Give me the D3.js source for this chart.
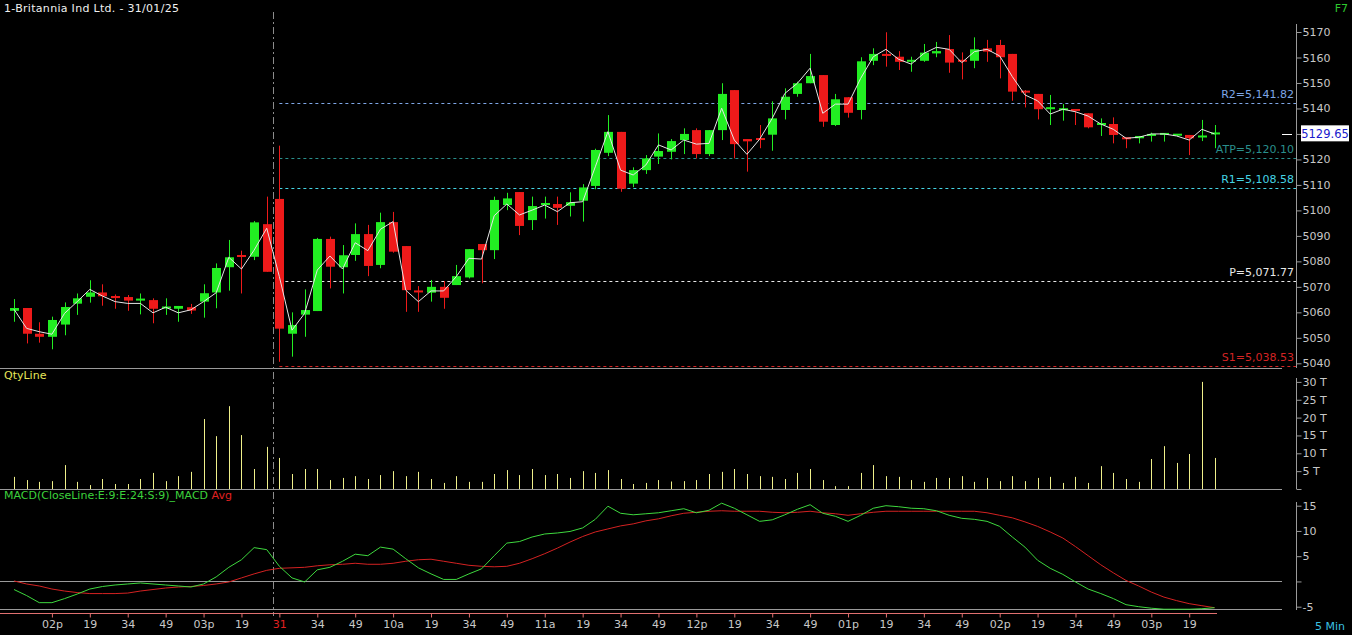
<!DOCTYPE html>
<html><head><meta charset="utf-8">
<script src="https://cdn.jsdelivr.net/npm/d3@7"></script>
<style>
html,body{margin:0;padding:0;background:#000;overflow:hidden}
svg{display:block}
text{font-family:"DejaVu Sans",Verdana,sans-serif}
</style>
</head><body>
<svg id="chart" width="1352" height="635"></svg>
<script>
// ---------- DATA ----------
const sessions = [
  {date: "30/01", start: "13:49", count: 21},
  {date: "31/01", start: "09:19", count: 75}
];
const opens = [5060.6,5061.7,5051.6,5050.4,5055.2,5063.4,5066.1,5067.8,5066.4,5066.0,5064.8,5064.8,5061.5,5061.4,5062.0,5064.2,5067.8,5077.7,5082.1,5081.8,5094.6,
  5104.5,5051.6,5059.1,5060.5,5088.8,5077.7,5082.5,5090.7,5078.6,5095.4,5086.0,5068.2,5067.7,5070.0,5070.7,5073.7,5086.8,5084.4,5102.1,5107.2,5096.2,5102.1,5102.5,5101.8,5103.8,5109.6,5122.6,5130.8,5110.5,5115.8,5121.1,5123.0,5127.6,5131.5,5122.1,5131.5,5147.2,5128.0,5128.0,5129.7,5139.4,5145.7,5149.9,5153.1,5133.5,5144.4,5139.4,5158.7,5161.4,5160.3,5158.3,5158.7,5161.6,5163.3,5158.7,5158.7,5163.6,5164.9,5161.4,5146.6,5145.7,5139.7,5139.4,5139.4,5138.1,5133.5,5133.9,5128.7,5128.3,5129.4,5129.8,5129.6,5129.6,5128.7,5129.5];
const highs = [5065.2,5061.7,5056.1,5058.3,5063.9,5067.4,5072.6,5071.0,5067.0,5066.8,5067.4,5065.5,5065.5,5062.5,5063.3,5071.0,5079.2,5088.4,5084.2,5095.8,5105.4,
  5125.4,5060.0,5069.0,5089.2,5089.7,5086.4,5094.9,5094.3,5099.1,5099.4,5086.0,5070.3,5072.7,5072.3,5078.6,5084.8,5086.8,5105.4,5106.9,5107.2,5105.4,5105.4,5105.4,5107.1,5110.3,5124.2,5137.4,5130.8,5116.9,5121.7,5130.2,5128.0,5132.2,5132.2,5131.5,5149.9,5147.2,5128.0,5133.5,5142.8,5147.9,5150.5,5161.4,5153.1,5145.7,5144.4,5160.1,5163.6,5169.9,5162.5,5160.3,5165.3,5166.1,5168.8,5162.0,5167.9,5166.9,5166.9,5161.4,5147.2,5145.7,5145.3,5141.7,5139.4,5138.1,5136.1,5136.5,5128.7,5129.2,5130.5,5130.0,5129.8,5129.6,5135.5,5133.5];
const lows = [5056.3,5047.8,5048.1,5045.5,5051.0,5059.0,5063.8,5062.6,5061.4,5060.6,5059.2,5055.7,5059.0,5056.3,5059.4,5057.9,5061.6,5068.5,5067.4,5080.5,5075.9,
  5040.6,5042.6,5050.4,5060.5,5069.4,5067.4,5080.2,5074.2,5077.3,5083.4,5060.2,5060.2,5064.2,5061.4,5070.7,5073.3,5071.4,5080.9,5100.1,5090.3,5092.3,5096.8,5094.3,5097.6,5095.6,5108.3,5121.3,5107.3,5109.1,5114.3,5118.2,5120.0,5122.1,5120.4,5121.3,5127.6,5120.4,5115.2,5124.4,5123.4,5135.7,5144.6,5149.9,5132.8,5133.1,5136.4,5135.7,5157.0,5156.4,5155.1,5154.4,5158.3,5160.1,5154.0,5151.4,5155.8,5158.3,5151.8,5143.0,5140.4,5135.7,5133.5,5135.2,5133.5,5132.2,5129.2,5126.3,5124.4,5126.3,5127.0,5127.0,5129.2,5121.7,5127.2,5124.4];
const closes = [5061.7,5051.6,5050.4,5057.0,5062.1,5065.5,5067.8,5066.3,5065.6,5064.6,5065.0,5061.4,5061.9,5062.5,5060.7,5067.5,5077.4,5081.6,5081.6,5095.3,5075.9,
  5053.6,5055.0,5060.9,5088.8,5077.9,5082.4,5090.7,5078.2,5095.4,5083.8,5068.7,5067.7,5070.0,5065.7,5074.2,5084.8,5084.4,5104.1,5104.7,5093.9,5101.7,5102.9,5101.0,5103.2,5109.0,5123.7,5130.8,5108.5,5115.8,5120.4,5123.3,5127.2,5130.0,5122.1,5131.5,5145.7,5126.0,5127.1,5127.6,5136.1,5144.6,5149.9,5152.7,5134.8,5143.6,5138.3,5158.5,5161.4,5160.6,5158.3,5158.7,5161.9,5162.5,5158.0,5158.0,5163.2,5162.3,5160.1,5146.6,5146.0,5139.7,5140.1,5139.7,5138.7,5132.6,5133.9,5129.6,5127.9,5129.2,5129.6,5130.0,5129.7,5128.3,5129.0,5130.2];
const closeLine = [5061.2,5053.7,5052.4,5051.4,5059.6,5064.2,5069.0,5066.4,5064.2,5063.5,5063.5,5059.8,5062.0,5059.8,5061.0,5064.2,5067.7,5081.6,5077.0,5084.4,5093.0,
  5074.0,5053.0,5059.6,5076.6,5082.1,5077.0,5087.3,5084.2,5092.6,5095.6,5068.7,5064.2,5068.4,5068.4,5074.0,5081.2,5080.9,5097.9,5102.5,5098.2,5100.1,5102.1,5099.5,5103.0,5103.4,5117.1,5130.9,5115.8,5113.9,5117.8,5125.7,5123.7,5127.6,5126.0,5126.3,5140.1,5127.6,5122.0,5127.9,5136.1,5145.9,5149.9,5155.8,5138.1,5141.7,5141.7,5151.8,5160.3,5163.2,5159.3,5157.4,5161.6,5164.0,5163.2,5158.0,5162.3,5163.2,5160.6,5152.5,5145.3,5143.0,5137.8,5139.7,5138.7,5137.0,5133.9,5131.8,5128.3,5128.7,5130.0,5130.0,5129.2,5127.6,5131.8,5130.0];
const volumes = [3.4,2.5,2.0,2.2,6.7,2.0,1.1,2.8,1.4,1.4,2.8,4.5,2.2,3.6,4.8,19.6,14.8,23.2,15.1,5.6,11.8,
  8.7,4.2,5.6,5.6,2.5,3.1,3.6,2.8,3.9,5.0,3.6,4.8,2.8,1.7,3.6,2.0,2.0,4.2,5.3,3.9,5.6,3.9,4.2,3.1,5.0,4.5,5.3,2.8,1.4,1.7,2.5,2.1,2.2,2.5,4.2,4.8,5.6,4.2,3.6,3.4,2.8,4.5,5.6,2.5,0.8,0.8,4.5,6.7,3.6,3.4,2.5,2.0,3.1,3.1,3.6,2.0,3.1,2.2,3.6,2.2,3.1,3.4,1.7,3.4,1.7,6.4,4.5,2.8,2.0,8.4,12.0,7.3,9.8,30.0,8.7];
const macdLine = [-1.6,-2.8,-4.2,-4.2,-3.4,-2.5,-1.5,-1.0,-0.7,-0.5,-0.3,-0.5,-0.7,-0.9,-1.1,-0.5,0.9,2.8,4.3,6.7,6.3,
  3.0,0.7,-0.1,2.3,2.8,4.0,5.4,5.1,6.8,6.4,4.5,2.7,1.5,0.4,0.4,1.5,2.5,5.1,7.6,7.9,8.8,9.4,9.6,9.9,10.6,12.3,14.9,13.5,13.2,13.4,13.6,14.0,14.4,13.6,14.1,15.5,14.5,13.2,11.9,12.2,13.2,14.3,15.2,13.5,12.9,11.9,13.1,14.5,15.0,14.8,14.5,14.4,14.0,13.1,12.5,12.3,11.9,10.9,8.8,6.8,4.2,2.6,1.4,-0.1,-1.5,-2.4,-3.4,-4.6,-5.0,-5.3,-5.5,-5.5,-5.5,-5.4,-5.2];
const macdAvg = [0.1,-0.5,-0.9,-1.5,-1.9,-2.2,-2.4,-2.4,-2.4,-2.3,-1.9,-1.6,-1.3,-1.1,-1.0,-0.8,-0.5,-0.1,0.7,1.5,2.2,
  2.6,2.7,2.8,3.1,3.3,3.4,3.6,3.4,3.4,3.6,4.0,4.3,4.4,4.0,3.6,3.2,3.0,2.9,3.0,3.6,4.5,5.5,6.6,7.8,8.9,9.8,10.4,11.0,11.4,12.0,12.4,13.0,13.5,13.7,13.9,14.0,13.9,13.9,13.9,13.7,13.6,13.7,13.9,13.6,13.4,13.1,13.4,13.7,13.9,13.9,13.9,13.9,13.9,13.9,13.9,13.9,13.6,13.1,12.6,11.8,10.9,9.8,8.6,6.9,5.1,3.3,1.7,0.2,-0.9,-2.1,-3.1,-3.8,-4.4,-4.8,-5.2];
const priceTicks = [5040,5050,5060,5070,5080,5090,5100,5110,5120,5130,5140,5150,5160,5170];
const volTicks = [0,5,10,15,20,25,30];
const macdTicks = [-5,0,5,10,15];
const axisLabels = [
  ["30/01 14:04","02p"],["30/01 14:19","19"],["30/01 14:34","34"],["30/01 14:49","49"],["30/01 15:04","03p"],["30/01 15:19","19"],
  ["31/01 09:19","31"],["31/01 09:34","34"],["31/01 09:49","49"],["31/01 10:04","10a"],["31/01 10:19","19"],["31/01 10:34","34"],["31/01 10:49","49"],
  ["31/01 11:04","11a"],["31/01 11:19","19"],["31/01 11:34","34"],["31/01 11:49","49"],["31/01 12:04","12p"],["31/01 12:19","19"],["31/01 12:34","34"],
  ["31/01 12:49","49"],["31/01 13:04","01p"],["31/01 13:19","19"],["31/01 13:34","34"],["31/01 13:49","49"],["31/01 14:04","02p"],["31/01 14:19","19"],
  ["31/01 14:34","34"],["31/01 14:49","49"],["31/01 15:04","03p"],["31/01 15:19","19"]
];
const levelNames = ["R2","ATP","R1","P","S1"];
const levelValues = [5141.82,5120.10,5108.58,5071.77,5038.53];
const levelColors = ["#7ea6e6","#2a8f8c","#45d4e4","#e8e8e8","#d42424"];
const lastPrice = 5129.65;
const title = "1-Britannia Ind Ltd. - 31/01/25";

// ---------- BUILD ----------
const times = [];
sessions.forEach(s => {
  let [h, m] = s.start.split(":").map(Number);
  for (let k = 0; k < s.count; k++) {
    const t = h * 60 + m + 5 * k;
    times.push(s.date + " " + String(Math.floor(t / 60)).padStart(2, "0") + ":" + String(t % 60).padStart(2, "0"));
  }
});
const candles = times.map((t, i) => ({t, o: opens[i], h: highs[i], l: lows[i], c: closes[i], v: volumes[i], cl: closeLine[i], m: macdLine[i], a: macdAvg[i]}));

const svg = d3.select("#chart");
svg.append("rect").attr("width", 1352).attr("height", 635).attr("fill", "#000");

const x = d3.scalePoint().domain(times).range([14, 1214.5]);
const yP = d3.scaleLinear().domain([5040, 5170]).range([363.3, 32]);
const yV = d3.scaleLinear().domain([0, 30]).range([489, 381.9]);
const yM = d3.scaleLinear().domain([-5, 15]).range([606.7, 505.7]);
const AX = 1296;
const gridCol = "#9a9a9a";
const txtCol = "#c8c8c8";

// title & misc texts
svg.append("text").attr("x", 4).attr("y", 12).attr("fill", "#f0f0f0").attr("font-size", 11).attr("letter-spacing", 0.3).text(title);
svg.append("text").attr("x", 1348).attr("y", 12).attr("text-anchor", "end").attr("fill", "#2ec82e").attr("font-size", 11).text("F7");
svg.append("text").attr("x", 4).attr("y", 379).attr("fill", "#e6e65a").attr("font-size", 11).text("QtyLine");
const mt = svg.append("text").attr("x", 4).attr("y", 499).attr("font-size", 11);
mt.append("tspan").attr("fill", "#3cd23c").text("MACD(CloseLine:E:9:E:24:S:9)_MACD ");
mt.append("tspan").attr("fill", "#e02020").text("Avg");
svg.append("text").attr("x", 1345).attr("y", 630).attr("text-anchor", "end").attr("fill", "#3cc0e0").attr("font-size", 11).text("5 Min");

// panel separators
svg.append("line").attr("x1", 0).attr("x2", 1282).attr("y1", 368.5).attr("y2", 368.5).attr("stroke", gridCol);
svg.append("line").attr("x1", 0).attr("x2", 1282).attr("y1", 489.5).attr("y2", 489.5).attr("stroke", gridCol);
svg.append("line").attr("x1", 0).attr("x2", 1282).attr("y1", Math.round(yM(0)) + 0.5).attr("y2", Math.round(yM(0)) + 0.5).attr("stroke", gridCol);
svg.append("line").attr("x1", 0).attr("x2", 1282).attr("y1", 609.5).attr("y2", 609.5).attr("stroke", gridCol);

// day separator
const sepX = (x(times[20]) + x(times[21])) / 2;
svg.append("line").attr("x1", Math.round(sepX) + 0.5).attr("x2", Math.round(sepX) + 0.5).attr("y1", 12).attr("y2", 616)
  .attr("stroke", "#8c8c8c").attr("stroke-dasharray", "7,3,2,3");

// pivot levels
const lvStart = x(times[21]);
levelValues.forEach((v, k) => {
  const yy = Math.round(yP(v)) - 0.5;
  svg.append("line").attr("x1", lvStart).attr("x2", AX).attr("y1", yy).attr("y2", yy)
    .attr("stroke", levelColors[k]).attr("stroke-dasharray", "3,3");
  svg.append("text").attr("x", 1294).attr("y", yy - 6).attr("text-anchor", "end").attr("fill", levelColors[k])
    .attr("font-size", 11).text(levelNames[k] + "=" + d3.format(",.2f")(v));
});

// candles
const gC = svg.append("g");
const up = "#22ee22", dn = "#ee1a1a";
candles.forEach(d => {
  const cx = Math.round(x(d.t));
  const col = d.c >= d.o ? up : dn;
  gC.append("line").attr("x1", cx + 0.5).attr("x2", cx + 0.5).attr("y1", yP(d.h)).attr("y2", yP(d.l)).attr("stroke", col);
  const top = yP(Math.max(d.o, d.c)), bot = yP(Math.min(d.o, d.c));
  const hgt = Math.max(2, bot - top);
  gC.append("rect").attr("x", cx - 4).attr("width", 9).attr("y", top - (hgt > bot - top ? 1 : 0)).attr("height", hgt).attr("fill", col);
});
// close line
svg.append("path").datum(candles).attr("fill", "none").attr("stroke", "#e6e6e6").attr("stroke-width", 1)
  .attr("d", d3.line().x(d => x(d.t)).y(d => yP(d.cl)));

// volume
svg.append("g").selectAll("line").data(candles).join("line")
  .attr("x1", d => Math.round(x(d.t)) + 0.5).attr("x2", d => Math.round(x(d.t)) + 0.5)
  .attr("y1", yV(0)).attr("y2", d => yV(d.v)).attr("stroke", "#f0f08a");

// MACD
svg.append("path").datum(candles).attr("fill", "none").attr("stroke", "#d42222")
  .attr("d", d3.line().x(d => x(d.t)).y(d => yM(d.a)));
svg.append("path").datum(candles).attr("fill", "none").attr("stroke", "#3ed83e")
  .attr("d", d3.line().x(d => x(d.t)).y(d => yM(d.m)));

// axes
function styleAxis(g) {
  g.select(".domain").remove();
  g.selectAll(".tick line").attr("stroke", gridCol);
  g.selectAll(".tick text").attr("fill", txtCol).attr("font-size", 11).attr("font-family", '"DejaVu Sans",sans-serif');
}
const lpY = yP(lastPrice);
const gp = svg.append("g").attr("transform", `translate(${AX + 0.5},0)`)
  .call(d3.axisRight(yP).tickValues(priceTicks).tickSize(5).tickPadding(1)
    .tickFormat(d => Math.abs(yP(d) - lpY) < 10 ? "" : d3.format("d")(d))).call(styleAxis);
gp.append("line").attr("y1", 24).attr("y2", 368).attr("stroke", gridCol);
const gv = svg.append("g").attr("transform", `translate(${AX + 0.5},0)`)
  .call(d3.axisRight(yV).tickValues(volTicks).tickSize(5).tickPadding(1).tickFormat(d => d ? d + " T" : "")).call(styleAxis);
gv.append("line").attr("y1", 378).attr("y2", 489).attr("stroke", gridCol);
const gm = svg.append("g").attr("transform", `translate(${AX + 0.5},0)`)
  .call(d3.axisRight(yM).tickValues(macdTicks).tickSize(5).tickPadding(1).tickFormat(d => d === 0 ? "" : d)).call(styleAxis);
gm.append("line").attr("y1", 502).attr("y2", 610).attr("stroke", gridCol);

// last price marker
svg.append("line").attr("x1", 1282).attr("x2", 1292).attr("y1", Math.round(lpY) - 0.5).attr("y2", Math.round(lpY) - 0.5).attr("stroke", "#fff");
svg.append("rect").attr("x", 1301).attr("y", lpY - 9.5).attr("width", 48).attr("height", 16).attr("fill", "#fff");
svg.append("text").attr("x", 1325).attr("y", lpY + 3).attr("text-anchor", "middle").attr("fill", "#1a1acc").attr("font-size", 11.5).text(d3.format(".2f")(lastPrice));

// time axis
const labelMap = new Map(axisLabels);
const gx = svg.append("g").attr("transform", "translate(0,613.5)")
  .call(d3.axisBottom(x).tickValues(axisLabels.map(a => a[0])).tickSize(4).tickPadding(3).tickFormat(t => labelMap.get(t)));
gx.select(".domain").remove();
gx.selectAll(".tick line").attr("stroke", "#e07070");
gx.selectAll(".tick text").attr("fill", t => labelMap.get(t) === "31" ? "#e02020" : txtCol).attr("font-size", 11).attr("font-family", '"DejaVu Sans",sans-serif');
gx.append("line").attr("x1", 0).attr("x2", 1217).attr("y1", 0).attr("y2", 0).attr("stroke", "#e07070");
</script>
</body></html>
